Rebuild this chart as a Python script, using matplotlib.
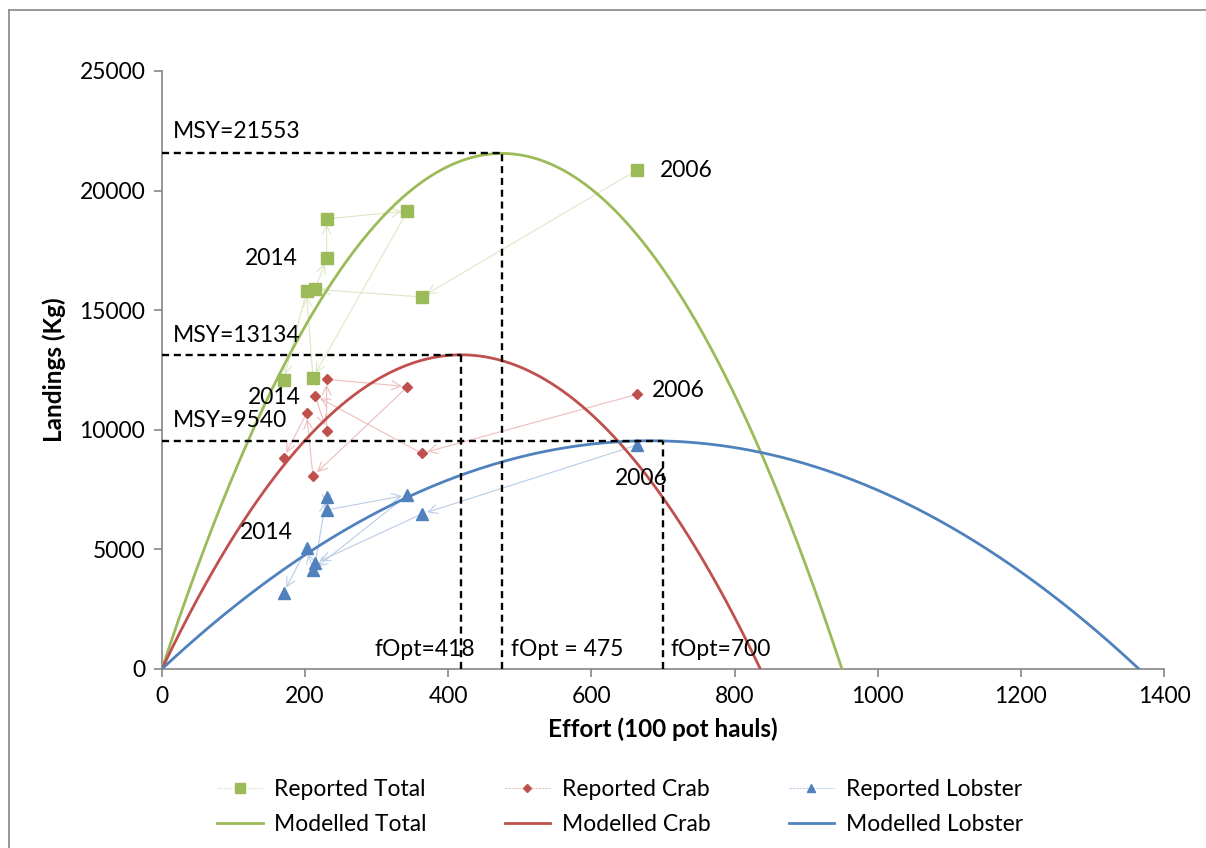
import numpy as np
import matplotlib
matplotlib.use("Agg")
import matplotlib.pyplot as plt
from matplotlib.lines import Line2D

plt.rcParams['font.family'] = ['Lato', 'DejaVu Sans']

# reported data, chronological 2006 -> 2014
years = [2006, 2007, 2008, 2009, 2010, 2011, 2012, 2013, 2014]
effort = [664, 363, 214, 230, 230, 343, 211, 202, 170]
rep_total = [20861, 15552, 15873, 17170, 18813, 19147, 12178, 15790, 12082]
rep_crab = [11484, 9017, 11426, 9962, 12111, 11802, 8068, 10690, 8833]
rep_lobster = [9365, 6480, 4419, 7203, 6647, 7274, 4139, 5046, 3190]

# schaefer model parameters
names = ["Total", "Crab", "Lobster"]
msy = [21553, 13134, 9540]
fopt = [475, 418, 700]
f_zero = [950, 836, 1365]  # where each modelled curve meets zero

colors = ["#9BBB59", "#C0504D", "#4F81BD"]
light = ["#DCE8C6", "#EDBDBC", "#B9CDE6"]
markers = ["s", "D", "^"]
msizes = [9, 5.5, 8]

fig = plt.figure(figsize=(12.06, 8.48), dpi=100)
ax = fig.add_axes([0.1343, 0.2111, 0.8309, 0.7052])

reported = [rep_total, rep_crab, rep_lobster]
handles_rep = []
handles_mod = []
for i in range(3):
    ys = reported[i]
    # arrows between consecutive years
    for k in range(len(effort) - 1):
        ax.annotate("", xy=(effort[k + 1], ys[k + 1]), xytext=(effort[k], ys[k]),
                    arrowprops=dict(arrowstyle="->", color=light[i], lw=0.8,
                                    shrinkA=0, shrinkB=4, mutation_scale=16),
                    zorder=2)
    ax.plot(effort, ys, linestyle="none", marker=markers[i], ms=msizes[i],
            color=colors[i], zorder=4)
    handles_rep.append(Line2D([], [], color=light[i], lw=0.8, ls=(0, (2, 1)),
                              marker=markers[i], ms=msizes[i] * 0.8,
                              mfc=colors[i], mec=colors[i]))

    f = np.linspace(0, f_zero[i], 400)
    y = 4 * msy[i] * (f / f_zero[i]) * (1 - f / f_zero[i])
    ax.plot(f, y, color=colors[i], lw=2, zorder=3)
    handles_mod.append(Line2D([], [], color=colors[i], lw=2))

    # MSY / fOpt guide lines
    ax.plot([0, fopt[i]], [msy[i], msy[i]], color="black", ls=(0, (3, 2)), lw=1.7, zorder=5)
    ax.plot([fopt[i], fopt[i]], [0, msy[i]], color="black", ls=(0, (3, 2)), lw=1.7, zorder=5)

fs = 16.5
ax.text(15, 22450, "MSY=21553", fontsize=fs, va="center")
ax.text(15, 13960, "MSY=13134", fontsize=fs, va="center")
ax.text(15, 10400, "MSY=9540", fontsize=fs, va="center")
ax.text(297, 830, "fOpt=418", fontsize=fs, va="center")
ax.text(487, 830, "fOpt = 475", fontsize=fs, va="center")
ax.text(710, 830, "fOpt=700", fontsize=fs, va="center")

ax.text(696, 20820, "2006", fontsize=fs, va="center")
ax.text(116, 17140, "2014", fontsize=fs, va="center")
ax.text(685, 11660, "2006", fontsize=fs, va="center")
ax.text(120, 11330, "2014", fontsize=fs, va="center")
ax.text(633, 7980, "2006", fontsize=fs, va="center")
ax.text(109, 5690, "2014", fontsize=fs, va="center")

ax.set_xlim(0, 1400)
ax.set_ylim(0, 25000)
ax.set_xticks(range(0, 1401, 200))
ax.set_yticks(range(0, 25001, 5000))
ax.tick_params(labelsize=fs, length=6, color="#868686", width=1.2, pad=6)
for s in ["top", "right"]:
    ax.spines[s].set_visible(False)
for s in ["left", "bottom"]:
    ax.spines[s].set_color("#868686")
    ax.spines[s].set_linewidth(1.2)

ax.set_xlabel("Effort (100 pot hauls)", fontsize=17.5, fontweight="bold", labelpad=8)
ax.set_ylabel("Landings (Kg)", fontsize=17.5, fontweight="bold", labelpad=10)

# interleave so rows read reported / modelled
leg_handles = []
leg_labels = []
for i in range(3):
    leg_handles += [handles_rep[i], handles_mod[i]]
    leg_labels += ["Reported " + names[i], "Modelled " + names[i]]
fig.legend(leg_handles, leg_labels, loc="center", bbox_to_anchor=(0.514, 0.048), ncol=3,
           frameon=False, fontsize=fs, handlelength=2.0, columnspacing=3.4,
           labelspacing=0.6, handletextpad=0.5)

# chart frame
fig.add_artist(Line2D([0.0075, 0.0075], [0, 0.988], color="#868686", lw=1.2))
fig.add_artist(Line2D([0.0075, 1.0], [0.988, 0.988], color="#868686", lw=1.2))

fig.savefig("out.png", dpi=100)
